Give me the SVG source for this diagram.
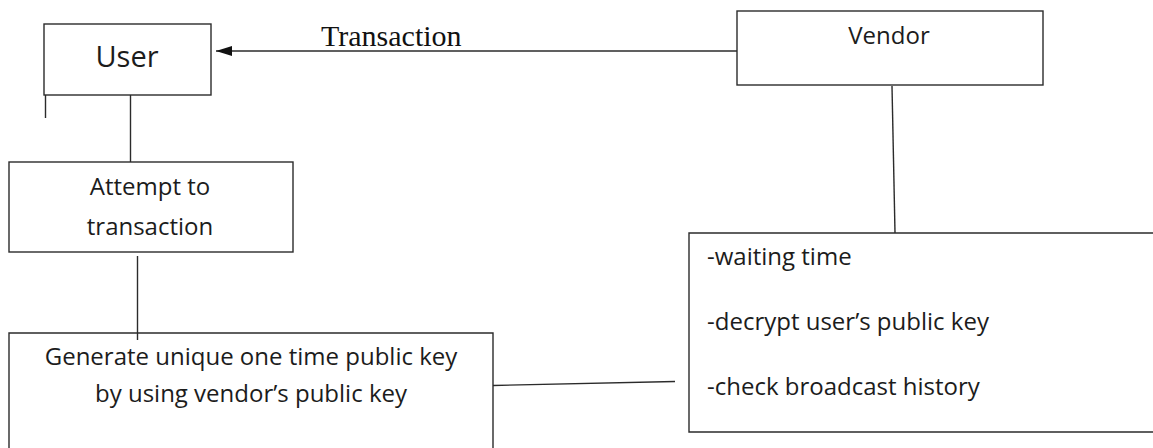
<svg xmlns="http://www.w3.org/2000/svg" width="1153" height="448" viewBox="0 0 1153 448">
  <defs>
    <style>
      .box { fill: #ffffff; stroke: #2b2b2b; stroke-width: 1.4; }
      .edge { fill: none; stroke: #2b2b2b; stroke-width: 1.4; }
      .lbl { font-family: "Open Sans", "Liberation Sans", sans-serif; font-size: 24px; fill: #1c1c1c; }
      .mid { text-anchor: middle; }
      .serif { font-family: "Liberation Serif", "DejaVu Serif", serif; font-size: 30px; fill: #111111; }
    </style>
    <marker id="arrow" viewBox="0 0 16 10" refX="16" refY="5" markerWidth="16" markerHeight="10" markerUnits="userSpaceOnUse" orient="auto">
      <path d="M0,0 L16,5 L0,10 Z" fill="#111111"/>
    </marker>
  </defs>

  <rect width="1153" height="448" fill="#ffffff"/>

  <!-- connectors -->
  <g id="connectors">
    <line class="edge" x1="737" y1="51" x2="216" y2="51" marker-end="url(#arrow)"/>
    <text class="serif" x="321" y="46">Transaction</text>
    <line class="edge" x1="130.5" y1="95" x2="130.5" y2="162"/>
    <line class="edge" x1="137.5" y1="256" x2="137.5" y2="340"/>
    <line class="edge" x1="892" y1="86" x2="895" y2="233"/>
    <line class="edge" x1="493" y1="385.5" x2="675" y2="381.5"/>
    <line class="edge" x1="45.5" y1="85" x2="45.5" y2="118"/>
    <line x1="45.5" y1="85" x2="45.5" y2="95" stroke="#111111" stroke-width="2.4"/>
  </g>

  <g id="user">
    <rect class="box" x="44" y="24" width="167" height="71"/>
    <text class="lbl mid" x="127" y="67" style="font-size:29px">User</text>
  </g>

  <g id="vendor">
    <rect class="box" x="737" y="11" width="306" height="74"/>
    <text class="lbl mid" x="889" y="44">Vendor</text>
  </g>

  <g id="attempt">
    <rect class="box" x="9" y="162" width="284" height="90"/>
    <text class="lbl mid" x="150" y="195">Attempt to</text>
    <text class="lbl mid" x="150" y="235">transaction</text>
  </g>

  <g id="generate">
    <path class="edge" d="M9,448 V333 H493 V448"/>
    <text class="lbl mid" x="251" y="365">Generate unique one time public key</text>
    <text class="lbl mid" x="251" y="402">by using vendor’s public key</text>
  </g>

  <g id="verify">
    <path class="edge" d="M1153,233 H689 V432 H1153"/>
    <text class="lbl" x="707" y="265">-waiting time</text>
    <text class="lbl" x="707" y="330">-decrypt user’s public key</text>
    <text class="lbl" x="707" y="395">-check broadcast history</text>
  </g>
</svg>
